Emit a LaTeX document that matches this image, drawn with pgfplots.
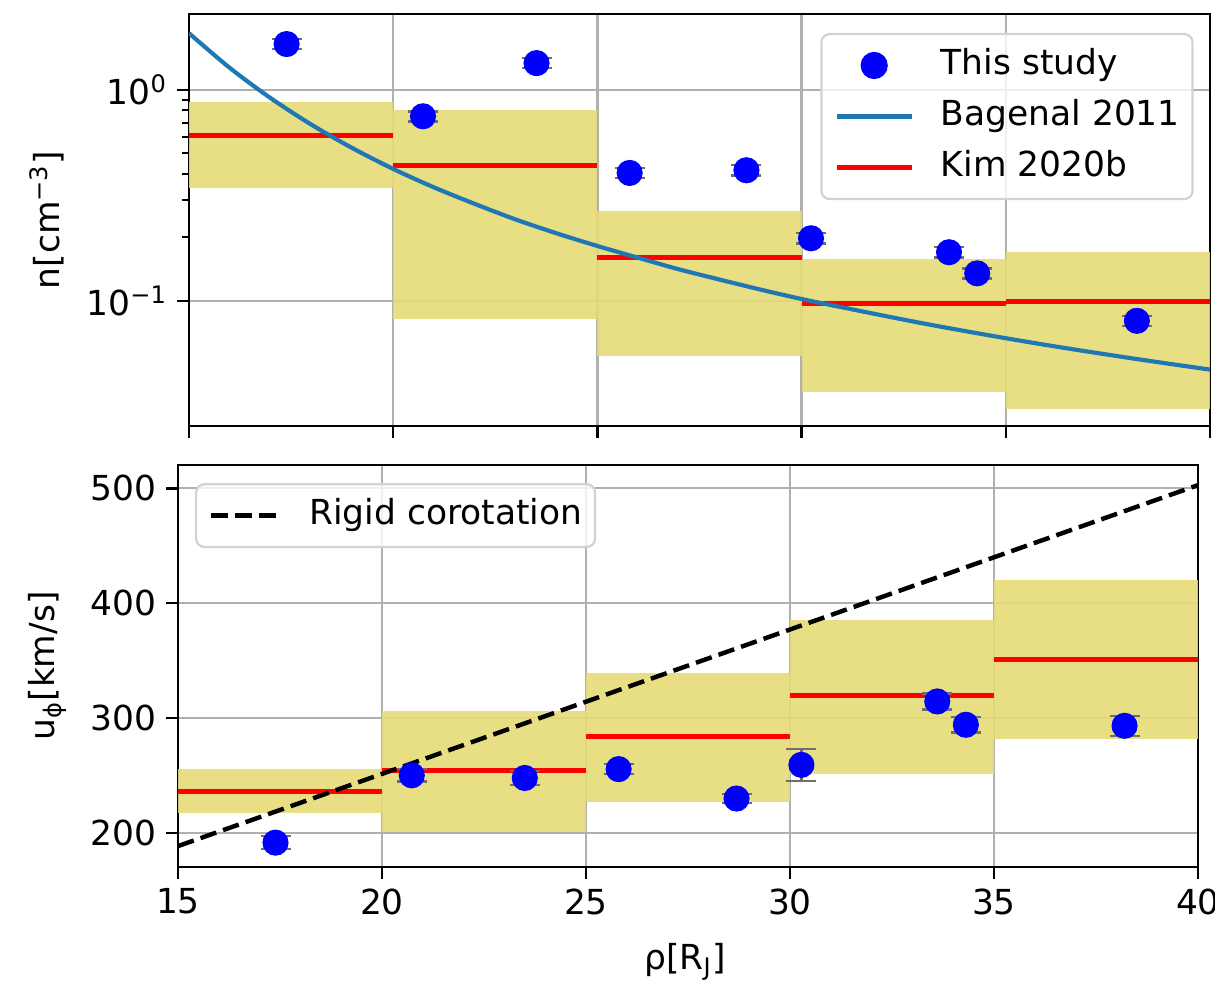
\documentclass[border=0pt]{standalone}
\usepackage{fontspec}
\setmainfont{DejaVu Sans}
\usepackage{pgfplots}
\pgfplotsset{compat=1.18}
\definecolor{boxy}{RGB}{230,220,120}
\definecolor{mplblue}{RGB}{31,119,180}
\definecolor{gridgray}{RGB}{176,176,176}
\definecolor{errgray}{RGB}{110,110,110}
\newcommand{\fs}{\fontsize{12.4}{14.9}\selectfont}

\pgfplotsset{
  common/.style={
    scale only axis,
    xmin=15, xmax=40, xtick={15,20,25,30,35,40},
    axis line style={line width=1pt, black},
    tick align=outside, tick pos=left,
    major tick length=4.3pt, minor tick length=2.6pt,
    every tick/.style={black, line width=0.9pt},
    every minor tick/.append style={line width=0.7pt},
    grid=major, major grid style={gridgray, line width=0.8pt},
    tick label style={font=\fs},
    label style={font=\fs},
    /pgf/number format/assume math mode=true,
    legend cell align=left,
    legend style={font=\fs, draw=gray!35, rounded corners=3pt, fill=white,
      fill opacity=0.8, text opacity=1, line width=0.8pt,
      inner xsep=4.6pt, inner ysep=5.1pt, row sep=6pt,
      nodes={inner sep=0pt, text height=9.4pt, text depth=3pt},
      /tikz/every odd column/.append style={column sep=9.6pt}},
    unbounded coords=jump,
  },
  studypts/.style={only marks, mark=*, mark size=4.5pt,
    mark options={fill=blue, draw=blue},
    error bars/y dir=both, error bars/y explicit,
    error bars/error bar style={errgray, line width=0.8pt},
    error bars/error mark options={errgray, line width=0.8pt, mark size=5.4pt, rotate=90}},
  legstudy/.style={legend image code/.code={\draw[draw=none] (0pt,0pt) -- (27pt,0pt);
     \draw[mark=*, mark size=4.5pt, mark options={fill=blue, draw=blue, fill opacity=1, draw opacity=1}] plot[only marks] coordinates {(13.5pt,0pt)};}},
  legbag/.style={legend image code/.code={\draw[mplblue, line width=1.5pt, draw opacity=1] (0pt,0pt) -- (27pt,0pt);}},
  legkim/.style={legend image code/.code={\draw[red, line width=1.8pt, draw opacity=1] (0pt,0pt) -- (27pt,0pt);}},
  legrig/.style={legend image code/.code={\draw[black, line width=1.6pt, draw opacity=1, dash pattern=on 6pt off 2.6pt] (0pt,0pt) -- (25pt,0pt);}},
}

\begin{document}
\begin{tikzpicture}
\useasboundingbox (0pt,0pt) rectangle (437.4pt,-353.88pt);

% ---------------- top panel ----------------
\begin{axis}[common,
  at={(68.04pt,-153.36pt)}, anchor=south west,
  width=367.56pt, height=148.32pt,
  ymode=log, ymin=0.0255, ymax=2.29,
  ytick={0.1,1}, yticklabels={10\textsuperscript{−1},10\textsuperscript{0}},
  xticklabels={},
  ylabel={n[cm\textsuperscript{−3}]},
  ylabel style={at={(axis description cs:-0.139,0.5)}, anchor=center},
  legend style={at={(axis description cs:0.984,0.954)}, anchor=north east},
]
% Kim 2020b ranges
\addplot[fill=boxy, draw=none, fill opacity=0.9, forget plot] coordinates {(15,0.341) (20,0.341) (20,0.874) (15,0.874)} -- cycle;
\addplot[fill=boxy, draw=none, fill opacity=0.9, forget plot] coordinates {(20,0.0822) (25,0.0822) (25,0.806) (20,0.806)} -- cycle;
\addplot[fill=boxy, draw=none, fill opacity=0.9, forget plot] coordinates {(25,0.0548) (30,0.0548) (30,0.267) (25,0.267)} -- cycle;
\addplot[fill=boxy, draw=none, fill opacity=0.9, forget plot] coordinates {(30,0.0371) (35,0.0371) (35,0.158) (30,0.158)} -- cycle;
\addplot[fill=boxy, draw=none, fill opacity=0.9, forget plot] coordinates {(35,0.0306) (40,0.0306) (40,0.170) (35,0.170)} -- cycle;
% Kim 2020b medians
\addplot[red, line width=1.8pt, forget plot] coordinates {
 (15,0.607) (20,0.607) (20,nan)
 (20,0.439) (25,0.439) (25,nan)
 (25,0.160) (30,0.160) (30,nan)
 (30,0.0975) (35,0.0975) (35,nan)
 (35,0.0993) (40,0.0993)};
% Bagenal 2011
\addplot[mplblue, line width=1.5pt, smooth, forget plot] coordinates {
 (15,1.857) (16,1.271) (17,0.914) (18,0.684) (19,0.530) (20,0.422)
 (21,0.345) (22,0.288) (23,0.243) (24,0.209) (25,0.182) (26,0.160)
 (27,0.141) (28,0.126) (29,0.113) (30,0.102) (31,0.0931) (32,0.0851)
 (33,0.0780) (34,0.0719) (35,0.0665) (36,0.0617) (37,0.0575) (38,0.0537)
 (39,0.0503) (40,0.0472)};
% This study
\addplot[studypts, forget plot] coordinates {
 (17.39,1.65) +- (0,0.09)
 (20.73,0.750) +- (0,0.041)
 (23.51,1.34) +- (0,0.074)
 (25.79,0.404) +- (0,0.022)
 (28.65,0.416) +- (0,0.023)
 (30.23,0.198) +- (0,0.011)
 (33.61,0.170) +- (0,0.0094)
 (34.30,0.135) +- (0,0.0074)
 (38.21,0.0804) +- (0,0.0044)};
\addlegendimage{legstudy}
\addlegendentry{This study}
\addlegendimage{legbag}
\addlegendentry{Bagenal 2011}
\addlegendimage{legkim}
\addlegendentry{Kim 2020b}
\end{axis}

% ---------------- bottom panel ----------------
\begin{axis}[common,
  at={(64.08pt,-312.12pt)}, anchor=south west,
  width=367.2pt, height=144.72pt,
  ymin=170.4, ymax=520.3, ytick={200,300,400,500},
  xlabel={ρ[R\textsubscript{J}]},
  xlabel style={at={(axis description cs:0.497,-0.236)}, anchor=center},
  ylabel={u\textsubscript{ϕ}[km/s]},
  ylabel style={at={(axis description cs:-0.128,0.5)}, anchor=center},
  legend style={at={(axis description cs:0.0167,0.955)}, anchor=north west},
]
\addplot[fill=boxy, draw=none, fill opacity=0.9, forget plot] coordinates {(15,217.7) (20,217.7) (20,255.5) (15,255.5)} -- cycle;
\addplot[fill=boxy, draw=none, fill opacity=0.9, forget plot] coordinates {(20,201.0) (25,201.0) (25,306.3) (20,306.3)} -- cycle;
\addplot[fill=boxy, draw=none, fill opacity=0.9, forget plot] coordinates {(25,226.6) (30,226.6) (30,339.6) (25,339.6)} -- cycle;
\addplot[fill=boxy, draw=none, fill opacity=0.9, forget plot] coordinates {(30,251.1) (35,251.1) (35,385.8) (30,385.8)} -- cycle;
\addplot[fill=boxy, draw=none, fill opacity=0.9, forget plot] coordinates {(35,282.0) (40,282.0) (40,420.3) (35,420.3)} -- cycle;
\addplot[red, line width=1.8pt, forget plot] coordinates {
 (15,236.3) (20,236.3) (20,nan)
 (20,254.5) (25,254.5) (25,nan)
 (25,283.6) (30,283.6) (30,nan)
 (30,319.4) (35,319.4) (35,nan)
 (35,351.4) (40,351.4)};
\addplot[black, line width=1.6pt, dash pattern=on 6pt off 2.6pt, forget plot] coordinates {(15,188.6) (40,502.8)};
\addplot[studypts, forget plot] coordinates {
 (17.39,191.6) +- (0,5.5)
 (20.73,250.2) +- (0,5.4)
 (23.50,247.9) +- (0,6)
 (25.80,255.6) +- (0,4.5)
 (28.69,230.0) +- (0,4.2)
 (30.28,259.3) +- (0,13.7)
 (33.61,314.5) +- (0,7)
 (34.31,294.2) +- (0,6.7)
 (38.20,293.3) +- (0,8.7)};
\addlegendimage{legrig}
\addlegendentry{Rigid corotation}
\end{axis}
\end{tikzpicture}
\end{document}
